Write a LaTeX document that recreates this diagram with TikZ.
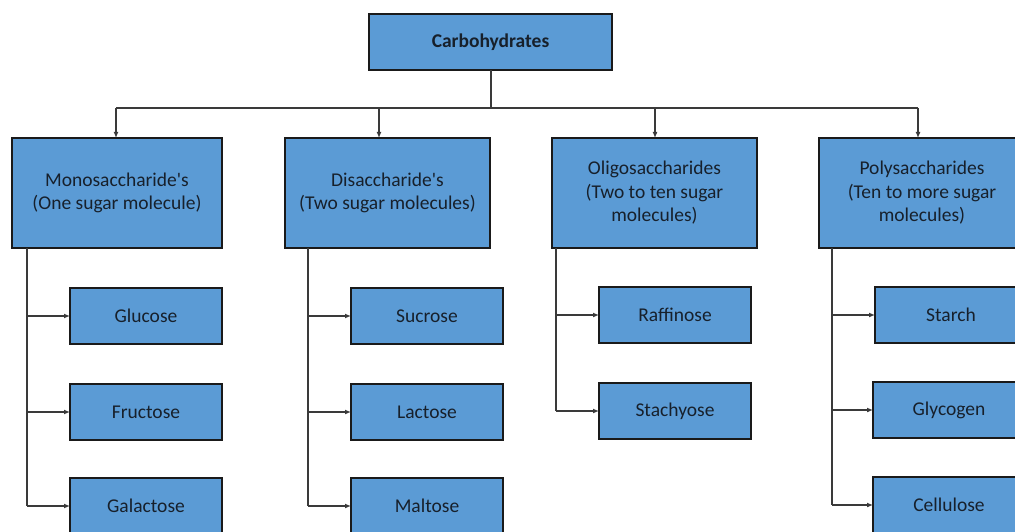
\documentclass[tikz,border=0pt]{standalone}
\usepackage{fontspec}
\setmainfont{Carlito}[Ligatures=TeXOff]
\usetikzlibrary{arrows.meta}
\definecolor{boxfill}{HTML}{5B9BD5}
\definecolor{boxline}{HTML}{1A1A1A}
\definecolor{wire}{HTML}{3A3A3A}
\definecolor{ink}{HTML}{17202B}
\begin{document}
\begin{tikzpicture}[x=1pt,y=-1pt,
  box/.style={draw=boxline,line width=1.6pt,fill=boxfill,rectangle,anchor=north west,
    inner sep=0pt,outer sep=0pt,align=center,text=ink,
    font=\fontsize{19.5}{23.5}\selectfont},
  bigbox/.style={box,minimum width=#1,minimum height=110pt},
  leaf/.style={box,minimum width=152pt,minimum height=56pt},
  wirestyle/.style={draw=wire,line width=1.5pt},
  arr/.style={wirestyle,-{Latex[length=6pt,width=5pt]}}]
\useasboundingbox (0,0) rectangle (1015,532);
\clip (0,0) rectangle (1015,532);
\fill[white] (0,0) rectangle (1015,532);

% top node
\node[box,minimum width=243pt,minimum height=56pt] (carb) at (369,14) {\textbf{Carbohydrates}};

% second level
\node[bigbox=210pt] (mono)  at (12,138)  {Monosaccharide's\\(One sugar molecule)};
\node[bigbox=205pt] (di)    at (285,138) {Disaccharide's\\(Two sugar molecules)};
\node[bigbox=205pt] (oligo) at (552,138) {Oligosaccharides\\(Two to ten sugar\\molecules)};
\node[bigbox=206pt] (poly)  at (819,138) {Polysaccharides\\(Ten to more sugar\\molecules)};

% leaves
\node[leaf] (glucose)   at (70,288)  {Glucose};
\node[leaf] (fructose)  at (70,384)  {Fructose};
\node[leaf] (galactose) at (70,478)  {Galactose};
\node[leaf] (sucrose)   at (351,288) {Sucrose};
\node[leaf] (lactose)   at (351,384) {Lactose};
\node[leaf] (maltose)   at (351,478) {Maltose};
\node[leaf] (raffinose) at (599,287) {Raffinose};
\node[leaf] (stachyose) at (599,383) {Stachyose};
\node[leaf] (starch)    at (875,287) {Starch};
\node[leaf] (glycogen)  at (873,382) {Glycogen};
\node[leaf] (cellulose) at (873,477) {Cellulose};

% bus from the top node
\coordinate (bus) at (491,108);
\coordinate (busL) at (116,108);
\coordinate (busR) at (918,108);
\draw[wirestyle] (bus |- carb.south) -- (bus);
\draw[wirestyle] (busL) -- (busR);
\draw[arr] (busL) -- (busL |- mono.north);
\draw[arr] ([xshift=-8.5pt]di.north |- bus) -- ([xshift=-8.5pt]di.north);
\draw[arr] ([xshift=0.5pt]oligo.north |- bus) -- ([xshift=0.5pt]oligo.north);
\draw[arr] (busR) -- (busR |- poly.north);

% trunks to the leaves
\coordinate (tM) at (27,248);
\coordinate (tD) at (308,248);
\coordinate (tO) at (556,248);
\coordinate (tP) at (832,248);
\draw[wirestyle] (tM) -- (tM |- galactose.west);
\draw[arr] (tM |- glucose.west) -- (glucose.west);
\draw[arr] (tM |- fructose.west) -- (fructose.west);
\draw[arr] (tM |- galactose.west) -- (galactose.west);

\draw[wirestyle] (tD) -- (tD |- maltose.west);
\draw[arr] (tD |- sucrose.west) -- (sucrose.west);
\draw[arr] (tD |- lactose.west) -- (lactose.west);
\draw[arr] (tD |- maltose.west) -- (maltose.west);

\draw[wirestyle] (tO) -- (tO |- stachyose.west);
\draw[arr] (tO |- raffinose.west) -- (raffinose.west);
\draw[arr] (tO |- stachyose.west) -- (stachyose.west);

\draw[wirestyle] (tP) -- (tP |- cellulose.west);
\draw[arr] (tP |- starch.west) -- (starch.west);
\draw[arr] (tP |- glycogen.west) -- (glycogen.west);
\draw[arr] (tP |- cellulose.west) -- (cellulose.west);
\end{tikzpicture}
\end{document}
